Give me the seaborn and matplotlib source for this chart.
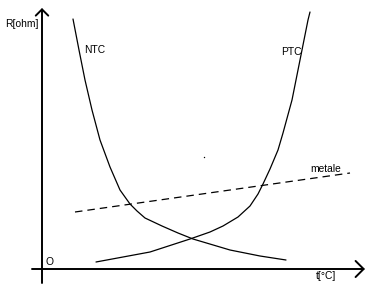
import numpy as np
import pandas as pd
import seaborn as sns
import matplotlib
matplotlib.use("Agg")
import matplotlib.pyplot as plt

# Data (schematic resistance vs temperature)
ntc_t = [31, 37, 43, 50, 58, 68, 78, 88, 95, 103, 120, 136, 151, 188, 218, 244]
ntc_r = [250, 219, 189, 159, 129, 102, 79, 65, 58, 51, 43, 36, 30, 19, 13, 9]

ptc_t = [54, 108, 148, 168, 181, 196, 208, 216, 221, 228, 236, 241, 250, 256, 261, 266, 268]
ptc_r = [7, 17, 30, 37, 43, 52, 63, 75, 85, 100, 119, 136, 169, 199, 224, 249, 257]

metal_t = [33, 308]
metal_r = [57, 96]

speck_t = [162]
speck_r = [112]

labels = {"y": "R[ohm]", "x": "t[°C]", "origin": "O",
          "ntc": "NTC", "ptc": "PTC", "metal": "metale"}

sns.set_theme(style="white")
plt.rcParams['font.family'] = ['Liberation Sans', 'DejaVu Sans']
plt.rcParams['text.color'] = 'black'

fig = plt.figure(figsize=(3.86, 2.88), dpi=100)
ax = fig.add_axes([0, 0, 1, 1])
ax.set_xlim(-42, 344)
ax.set_ylim(-19, 269)
ax.axis("off")

df_ntc = pd.DataFrame({"t": ntc_t, "r": ntc_r})
df_ptc = pd.DataFrame({"t": ptc_t, "r": ptc_r})
df_met = pd.DataFrame({"t": metal_t, "r": metal_r})

sns.lineplot(data=df_ntc, x="t", y="r", ax=ax, sort=False, estimator=None,
             color="black", lw=0.9)
sns.lineplot(data=df_ptc, x="t", y="r", ax=ax, sort=False, estimator=None,
             color="black", lw=0.9)
sns.lineplot(data=df_met, x="t", y="r", ax=ax, sort=False, estimator=None,
             color="black", lw=0.9)
ax.lines[-1].set_dashes([6, 4])
sns.scatterplot(x=speck_t, y=speck_r, ax=ax, color="black", s=1.0, linewidth=0)

# Axes with arrows
ax.annotate("", xy=(0, 261), xytext=(0, -14),
            arrowprops=dict(arrowstyle="->,head_length=0.45,head_width=0.45",
                            lw=1.4, color="black", shrinkA=0, shrinkB=0,
                            mutation_scale=10))
ax.annotate("", xy=(323, 0), xytext=(-10, 0),
            arrowprops=dict(arrowstyle="->,head_length=0.58,head_width=0.58",
                            lw=1.4, color="black", shrinkA=0, shrinkB=0,
                            mutation_scale=10))

fs = 7.4
ax.text(-37, 245, labels["y"], fontsize=fs, va="center", ha="left", color="black")
ax.text(274, -7, labels["x"], fontsize=fs, va="center", ha="left", color="black")
ax.text(4, 7, labels["origin"], fontsize=fs, va="center", ha="left", color="black")
ax.text(42, 219, labels["ntc"], fontsize=fs, va="center", ha="left", color="black")
ax.text(239, 217, labels["ptc"], fontsize=fs, va="center", ha="left", color="black")
ax.text(268, 100, labels["metal"], fontsize=fs, va="center", ha="left", color="black")

fig.savefig("out.png", dpi=100, facecolor="white")
